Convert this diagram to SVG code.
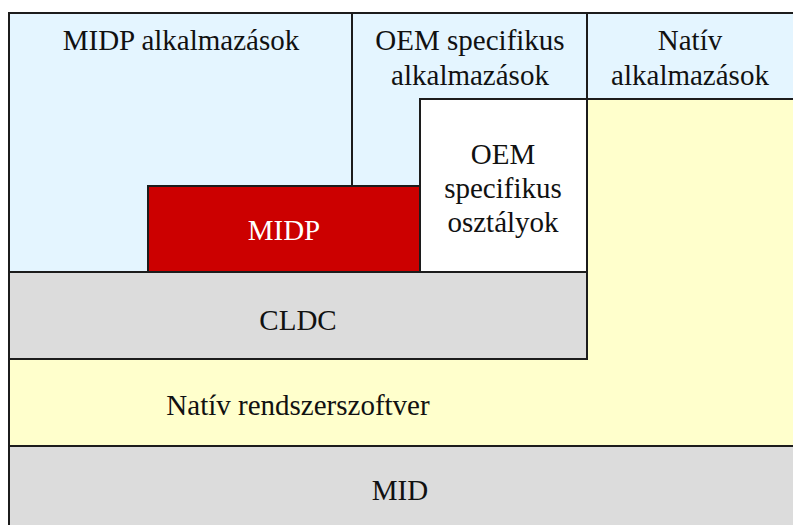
<svg xmlns="http://www.w3.org/2000/svg" width="793" height="525" viewBox="0 0 793 525">
  <style>
    .blk { stroke: #1c1c1c; stroke-width: 2; stroke-linejoin: miter; }
    .blue { fill: #E4F5FF; }
    .yellow { fill: #FFFFCC; }
    .gray { fill: #DCDCDC; }
    .white { fill: #FFFFFF; }
    .red { fill: #CC0000; }
    .lbl { font-size: 29px; fill: #111; text-anchor: middle; }
    .light { fill: #FFFFFF; }
  </style>
  <rect width="793" height="525" fill="#FFFFFF"/>

  <g font-family="Liberation Serif, Times New Roman, Times, DejaVu Serif, serif">
    <!-- bottom layer: device -->
    <g id="mid">
      <rect class="blk gray" x="9" y="446" width="800" height="100"/>
      <text class="lbl" x="400" y="500">MID</text>
    </g>

    <!-- native system software (L-shaped) -->
    <g id="nativ-rendszerszoftver">
      <path class="blk yellow" d="M587,99 H810 V446 H9 V359 H587 Z"/>
      <text class="lbl" x="298" y="415">Natív rendszerszoftver</text>
    </g>

    <g id="cldc">
      <rect class="blk gray" x="9" y="272" width="578" height="87"/>
      <text class="lbl" x="298" y="330">CLDC</text>
    </g>

    <g id="midp-alkalmazasok">
      <path class="blk blue" d="M9,13 H352 V186 H148 V272 H9 Z"/>
      <text class="lbl" x="181" y="50">MIDP alkalmazások</text>
    </g>

    <g id="oem-alkalmazasok">
      <path class="blk blue" d="M352,13 H587 V99 H420 V186 H352 Z"/>
      <text class="lbl" x="470" y="50">OEM specifikus</text>
      <text class="lbl" x="470" y="85">alkalmazások</text>
    </g>

    <g id="nativ-alkalmazasok">
      <path class="blk blue" d="M587,13 H810 V99 H587 Z"/>
      <text class="lbl" x="690" y="50">Natív</text>
      <text class="lbl" x="690" y="85">alkalmazások</text>
    </g>

    <g id="oem-osztalyok">
      <rect class="blk white" x="420" y="99" width="167" height="173"/>
      <text class="lbl" x="503" y="164">OEM</text>
      <text class="lbl" x="503" y="198">specifikus</text>
      <text class="lbl" x="503" y="232">osztályok</text>
    </g>

    <g id="midp">
      <rect class="blk red" x="148" y="186" width="272" height="86"/>
      <text class="lbl light" x="284" y="240">MIDP</text>
    </g>
  </g>

  <!-- no connectors in this layer diagram -->
  <g id="connectors"/>
</svg>
